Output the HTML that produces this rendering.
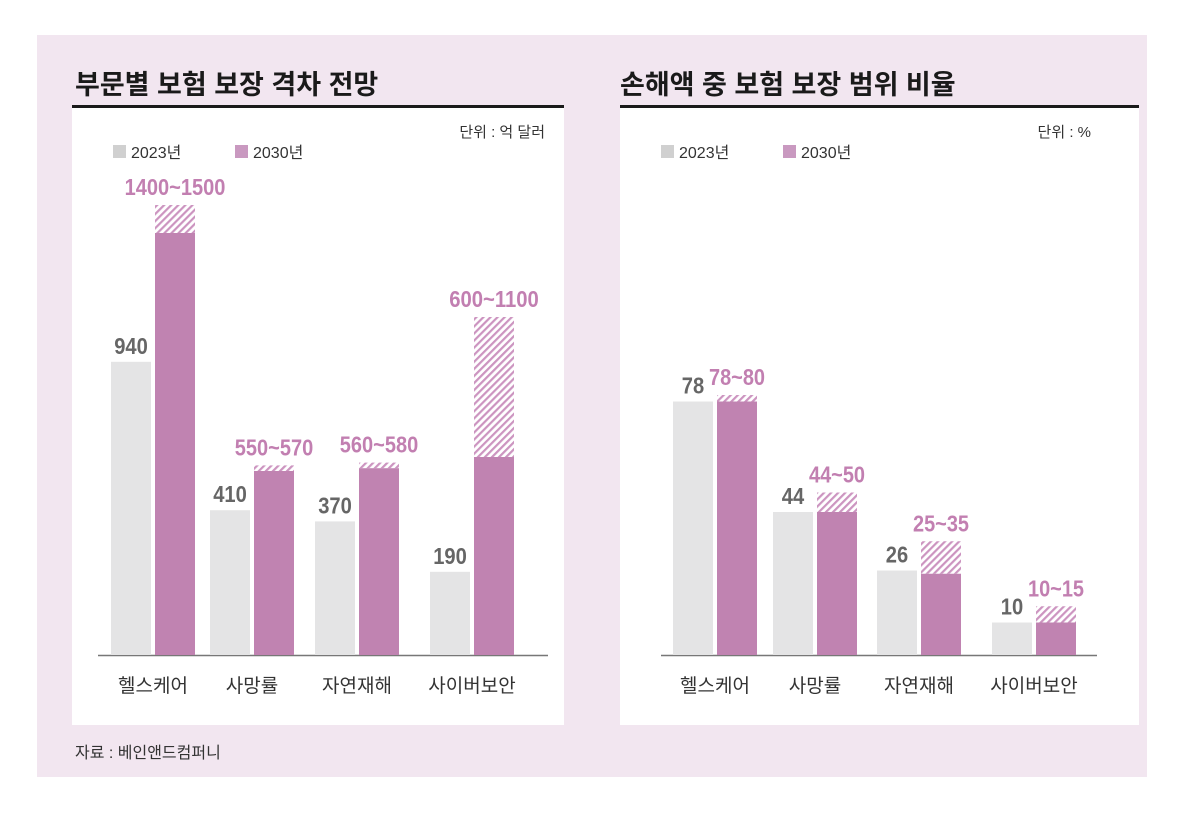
<!DOCTYPE html>
<html><head><meta charset="utf-8">
<style>
html,body{margin:0;padding:0;background:#fff;}
body{width:1200px;height:811px;overflow:hidden;font-family:"Liberation Sans","Noto Sans CJK KR",sans-serif;}
svg text{font-family:"Liberation Sans","Noto Sans CJK KR",sans-serif;}
.num{font-weight:bold;}
</style></head>
<body>
<svg id="svg" width="1200" height="811" viewBox="0 0 1200 811" xmlns="http://www.w3.org/2000/svg">
<defs>
<pattern id="hatch" patternUnits="userSpaceOnUse" width="5" height="5" patternTransform="rotate(45)">
<rect width="5" height="5" fill="#fff"/>
<rect width="2.2" height="5" fill="#cc94c0"/>
</pattern>
</defs>
<rect x="37" y="35" width="1110" height="742" fill="#f2e6f0"/>
<text x="75" y="94" font-size="27" font-weight="bold" fill="#1a1a1a">부문별 보험 보장 격차 전망</text>
<text x="620" y="94" font-size="27" font-weight="bold" fill="#1a1a1a">손해액 중 보험 보장 범위 비율</text>
<rect x="72" y="108" width="492" height="617" fill="#fff"/>
<rect x="620" y="108" width="519" height="617" fill="#fff"/>
<rect x="72" y="105" width="492" height="3" fill="#1a1a1a"/>
<rect x="620" y="105" width="519" height="3" fill="#1a1a1a"/>
<text x="545" y="137" font-size="15" fill="#333" text-anchor="end">단위 : 억 달러</text>
<text x="1091" y="137" font-size="15" fill="#333" text-anchor="end">단위 : %</text>
<g>
<rect x="113" y="145" width="13" height="13" fill="#d0d0d0"/>
<text x="131" y="158" font-size="16" fill="#333">2023년</text>
<rect x="235" y="145" width="13" height="13" fill="#c999c0"/>
<text x="253" y="158" font-size="16" fill="#333">2030년</text>
</g>
<g>
<rect x="661" y="145" width="13" height="13" fill="#d0d0d0"/>
<text x="679" y="158" font-size="16" fill="#333">2023년</text>
<rect x="783" y="145" width="13" height="13" fill="#c999c0"/>
<text x="801" y="158" font-size="16" fill="#333">2030년</text>
</g>
<text x="75" y="758" font-size="16" fill="#333">자료 : 베인앤드컴퍼니</text>
<g id="left"></g>
<g id="right"></g>
</svg>
<script>
const categories = ["헬스케어", "사망률", "자연재해", "사이버보안"];
const leftVals2023 = [940, 410, 370, 190];
const leftLow2030 = [1400, 550, 560, 600];
const leftHigh2030 = [1500, 570, 580, 1100];
const leftLabels2030 = ["1400~1500", "550~570", "560~580", "600~1100"];
const rightVals2023 = [78, 44, 26, 10];
const rightLow2030 = [78, 44, 25, 10];
const rightHigh2030 = [80, 50, 35, 15];
const rightLabels2030 = ["78~80", "44~50", "25~35", "10~15"];

const NS = "http://www.w3.org/2000/svg";
function mk(tag, attrs, parent, txt){
  const e = document.createElementNS(NS, tag);
  for (const k in attrs) e.setAttribute(k, attrs[k]);
  if (txt !== undefined) e.textContent = txt;
  parent.appendChild(e);
  return e;
}
function numText(g, x, yy, str, fill){
  const t = mk("text", {x: x, y: yy, "font-size": 23, fill: fill, "text-anchor": "middle", class: "num",
    textLength: (str.length * 11.2).toFixed(1), lengthAdjust: "spacingAndGlyphs"}, g, str);
  return t;
}
function drawChart(g, cfg){
  const base = 655;
  const y = v => base - cfg.scale(v);
  const ax = mk("line", {x1: cfg.axisX0, x2: cfg.axisX1, y1: base + 0.5, y2: base + 0.5, stroke: "#777", "stroke-width": 1.5}, g);
  
  
  categories.forEach((c, i) => {
    const gx = cfg.groupX[i];
    const bw = 40;
    const gy = y(cfg.v23[i]);
    const b1 = mk("rect", {x: gx, y: gy, width: bw, height: base - gy, fill: "#e4e4e5"}, g);
    
    
    const t1 = numText(g, gx + bw / 2, gy - 8, String(cfg.v23[i]), "#666");
    
    
    const px = gx + 44;
    const hy = y(cfg.hi[i]);
    const ly = y(cfg.lo[i]);
    const h = mk("rect", {x: px, y: hy, width: bw, height: ly - hy, fill: "url(#hatch)"}, g);
    
    
    const b2 = mk("rect", {x: px, y: ly, width: bw, height: base - ly, fill: "#c083b1"}, g);
    
    
    const t2 = numText(g, px + bw / 2, hy - 10, cfg.lab[i], "#c27fb1");
    
    
    const cl = mk("text", {x: gx + 42, y: 692, "font-size": 19, fill: "#333", "text-anchor": "middle"}, g, c);
    
    
  });
}
drawChart(document.getElementById("left"), {
  scale: v => 30 + 0.28 * v,
  axisX0: 98, axisX1: 548,
  groupX: [111, 210, 315, 430],
  v23: leftVals2023, lo: leftLow2030, hi: leftHigh2030, lab: leftLabels2030
});
drawChart(document.getElementById("right"), {
  scale: v => 3.25 * v,
  axisX0: 661, axisX1: 1097,
  groupX: [673, 773, 877, 992],
  v23: rightVals2023, lo: rightLow2030, hi: rightHigh2030, lab: rightLabels2030
});
</script>
</body></html>
